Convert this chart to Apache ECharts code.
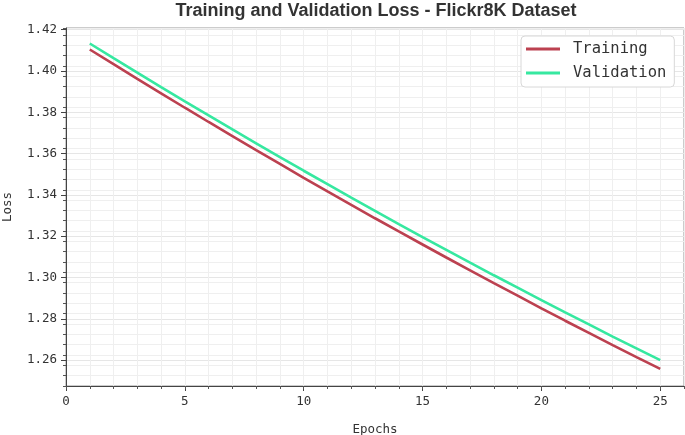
<!DOCTYPE html>
<html>
<head>
<meta charset="utf-8">
<script src="https://cdn.jsdelivr.net/npm/echarts@6/dist/echarts.min.js"></script>
<style>html,body{margin:0;padding:0;background:#fff}#c{width:685px;height:435px}</style>
</head>
<body>
<div id="c"></div>
<script>
const epochs = [1,2,3,4,5,6,7,8,9,10,11,12,13,14,15,16,17,18,19,20,21,22,23,24,25];
const trainLoss = [1.4104,1.4033,1.3962,1.3892,1.3822,1.3753,1.3685,1.3617,1.3550,1.3483,1.3417,1.3352,1.3287,1.3223,1.3160,1.3097,1.3035,1.2973,1.2912,1.2851,1.2791,1.2732,1.2673,1.2615,1.2558];
const valLoss = [1.4133,1.4062,1.3992,1.3922,1.3853,1.3785,1.3717,1.3650,1.3583,1.3517,1.3452,1.3387,1.3323,1.3259,1.3196,1.3134,1.3072,1.3011,1.2951,1.2891,1.2831,1.2773,1.2714,1.2657,1.2600];
const xTicks = [0,5,10,15,20,25];
const yTicks = [1.26,1.28,1.30,1.32,1.34,1.36,1.38,1.40,1.42];
const seriesNames = ['Training','Validation'];

const mono = '"DejaVu Sans Mono", monospace';
const X_MIN = 0, X_MAX = 26, Y_MIN = 1.2475, Y_MAX = 1.4208;

const chart = echarts.init(document.getElementById('c'), null, {renderer:'canvas'});
chart.setOption({
  animation: false,
  backgroundColor: '#fff',
  title: {
    text: 'Training and Validation Loss - Flickr8K Dataset',
    left: 371, textAlign: 'center', top: -3,
    textStyle: {fontFamily: '"Liberation Sans", Arial, sans-serif', fontWeight: 'bold', fontSize: 18, color: '#333'}
  },
  legend: {
    orient: 'vertical', left: 521, top: 36,
    padding: [5, 8, 6, 5], itemGap: 8,
    itemWidth: 34, itemHeight: 3, icon: 'rect',
    backgroundColor: '#fff', borderColor: '#d8d8d8', borderWidth: 1, borderRadius: 4,
    textStyle: {fontFamily: mono, fontSize: 15.5, color: '#333', padding: [0,0,0,8], lineHeight: 16},
    data: seriesNames
  },
  grid: {left: 66, right: 1, top: 28, bottom: 49, show: true, borderColor: '#999', borderWidth: 1,
    containLabel: false, outerBoundsMode: 'none'},
  xAxis: [{
    type: 'value', min: X_MIN, max: X_MAX, position: 'bottom',
    name: 'Epochs', nameLocation: 'middle', nameGap: 37,
    nameTextStyle: {fontFamily: mono, fontSize: 12.5, color: '#333'},
    axisLine: {show: true, lineStyle: {color: '#444'}},
    axisTick: {show: true, length: 5, lineStyle: {color: '#444'}, customValues: xTicks},
    axisLabel: {fontFamily: mono, fontSize: 12.5, color: '#333', margin: 9, customValues: xTicks},
    splitLine: {show: true, lineStyle: {color: '#e6e6e6', width: 1}}
  }, {
    type: 'value', min: X_MIN, max: X_MAX, interval: 1, position: 'bottom', offset: 0,
    axisLine: {show: false},
    axisTick: {show: true, length: 3, lineStyle: {color: '#555'}},
    axisLabel: {show: false},
    splitLine: {show: true, lineStyle: {color: '#efefef', width: 1}}
  }],
  yAxis: [{
    type: 'value', min: Y_MIN, max: Y_MAX, position: 'left',
    name: 'Loss', nameLocation: 'middle', nameGap: 52, nameRotate: 90,
    nameTextStyle: {fontFamily: mono, fontSize: 12.5, color: '#333'},
    axisLine: {show: true, lineStyle: {color: '#444'}},
    axisTick: {show: true, length: 5, lineStyle: {color: '#444'}, customValues: yTicks},
    axisLabel: {fontFamily: mono, fontSize: 12.5, color: '#333', margin: 9, customValues: yTicks,
      formatter: v => v.toFixed(2)},
    splitLine: {show: true, lineStyle: {color: '#e6e6e6', width: 1}}
  }, {
    type: 'value', min: Y_MIN, max: Y_MAX, interval: 0.005, position: 'left', offset: 0,
    axisLine: {show: false},
    axisTick: {show: true, length: 3, lineStyle: {color: '#555'}},
    axisLabel: {show: false},
    splitLine: {show: true, lineStyle: {color: '#efefef', width: 1}}
  }],
  series: [{
    name: seriesNames[0], type: 'line', xAxisIndex: 0, yAxisIndex: 0,
    data: epochs.map((e, i) => [e, trainLoss[i]]),
    showSymbol: false, symbol: 'none', z: 3,
    lineStyle: {color: '#bc4150', width: 2.6}, itemStyle: {color: '#bc4150'}
  }, {
    name: seriesNames[1], type: 'line', xAxisIndex: 0, yAxisIndex: 0,
    data: epochs.map((e, i) => [e, valLoss[i]]),
    showSymbol: false, symbol: 'none', z: 4,
    lineStyle: {color: '#36e8a0', width: 2.6}, itemStyle: {color: '#36e8a0'}
  }]
});
</script>
</body>
</html>
